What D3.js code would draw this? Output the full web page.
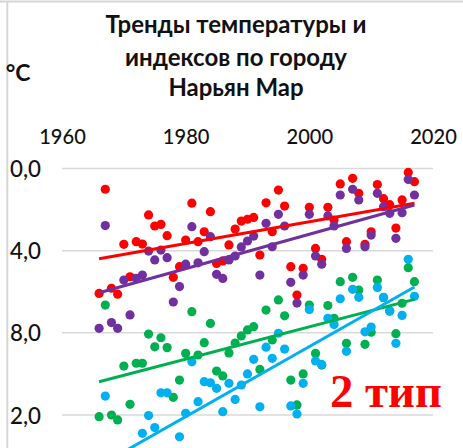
<!DOCTYPE html>
<html><head><meta charset="utf-8">
<script src="https://cdn.jsdelivr.net/npm/d3@7"></script>
<style>html,body{margin:0;padding:0;background:#fff;overflow:hidden}</style>
</head><body>
<svg id="c" width="463" height="448"></svg>
<script>
const years = d3.range(1966, 2018);
const redVals = [-6.08,-1.01,-5.83,-6.12,-3.69,-5.27,-3.56,-3.68,-2.26,-2.80,-2.72,-3.27,-5.30,-4.78,-3.48,-1.69,-3.56,-3.08,-2.10,-4.62,-4.50,-3.72,-2.95,-2.56,-2.47,-2.38,-4.21,-1.67,-3.08,-1.05,-1.83,-4.78,-6.16,-4.86,-1.89,-3.89,-4.42,-1.89,-2.51,-0.75,-3.56,-0.48,-1.21,-3.69,-3.08,-0.78,-1.47,-1.76,-2.90,-1.53,-0.19,-0.64];
const purpleVals = [-7.78,-2.78,-7.50,-7.78,-5.43,-7.13,-5.35,-5.19,-4.02,-4.45,-3.97,-4.34,-6.50,-5.75,-4.66,-2.83,-4.59,-4.05,-3.32,-5.15,-5.35,-4.45,-4.26,-3.82,-3.53,-3.29,-5.19,-2.67,-3.81,-2.23,-2.80,-5.54,-6.55,-5.19,-2.23,-4.26,-4.66,-2.31,-2.80,-1.29,-3.89,-1.01,-1.53,-3.81,-3.24,-1.21,-1.86,-2.18,-3.40,-2.15,-0.53,-1.29];
const greenVals = [-12.08,-6.65,-12.00,-12.24,-9.62,-11.48,-9.48,-9.48,-8.06,-8.68,-8.24,-8.72,-11.14,-10.30,-9.00,-6.97,-9.08,-8.48,-7.54,-9.86,-10.10,-8.98,-8.50,-8.15,-7.86,-7.70,-9.78,-6.89,-8.35,-6.40,-7.17,-10.30,-11.51,-10.00,-6.65,-9.00,-9.57,-6.67,-7.29,-5.51,-8.51,-5.30,-5.92,-8.56,-7.97,-5.43,-6.29,-6.94,-8.04,-6.56,-4.83,-5.51];
const blueVals = [null,-11.08,null,null,null,null,null,-12.89,-12.03,-12.61,-10.92,-10.92,null,-13.06,-11.92,-9.41,-11.35,-10.38,-10.43,-10.70,-11.84,-10.46,-11.24,-10.54,-10.00,-9.29,-11.60,-8.70,-9.24,-8.02,-8.79,-11.56,-11.95,-10.46,-6.87,-9.37,-9.54,-7.29,-7.60,-6.34,-8.90,-5.88,-6.27,-7.95,-7.72,-5.79,-6.27,-6.94,-8.51,-7.15,-4.42,-6.22];
const trendYears = [1966, 2017];
const trendRed = [-4.39, -1.69];
const trendPurple = [-6.05, -1.78];
const trendGreen = [-10.38, -6.37];
const trendBlue = [-14.47, -5.77];
const xTicks = [1960, 1980, 2000, 2020];
const yTicks = [0, -4, -8, -12];
const yTickLabels = ["0,0", "4,0", "8,0", "2,0"];
const titleLines = ["Тренды температуры и", "индексов по городу", "Нарьян Мар"];
const unitLabel = "°C";
const typeLabel = "2 тип";

const FONT = "Lato, 'Open Sans', sans-serif";
const colors = {red:"#FF0000", purple:"#7030A0", green:"#00B050", blue:"#00B0F0"};
const svg = d3.select("#c");
svg.append("rect").attr("width",463).attr("height",448).attr("fill","#fff");

const x = d3.scaleLinear().domain([1960, 2020]).range([62, 433]);
const y = d3.scaleLinear().domain([0, -12]).range([168.5, 415]);

// frame lines
svg.append("line").attr("x1",0).attr("x2",463).attr("y1",1.5).attr("y2",1.5).attr("stroke","#d6d6d6").attr("stroke-width",2);
svg.append("line").attr("x1",7.3).attr("x2",7.3).attr("y1",2).attr("y2",448).attr("stroke","#d6d6d6").attr("stroke-width",2);

function fit(sel, w){
  const n = sel.node();
  const fs = parseFloat(sel.attr("font-size"));
  const m = n.getComputedTextLength();
  const nf = m > 0 ? fs * w / m : fs;
  sel.attr("font-size", nf.toFixed(2));
  return nf;
}

// title
const titleY = [33.3, 65.8, 95.5];
const tsel = titleLines.map((t,i)=> svg.append("text").attr("x",236).attr("y",titleY[i]).attr("text-anchor","middle")
    .attr("font-family",FONT).attr("font-weight","bold").attr("font-size",22).attr("fill","#111").text(t));
const tfs = fit(tsel[0], 261);
tsel.forEach(s=>s.attr("font-size", tfs.toFixed(2)));

svg.append("text").attr("x",30.5).attr("y",81).attr("text-anchor","end")
  .attr("font-family",FONT).attr("font-weight","bold").attr("font-size",23).attr("fill","#111").text(unitLabel);

// gridlines
svg.append("g").selectAll("line").data(yTicks).join("line")
  .attr("x1",62).attr("x2",433).attr("y1",d=>y(d)).attr("y2",d=>y(d))
  .attr("stroke","#d9d9d9").attr("stroke-width",1.5);

// x axis labels (top)
const xa = svg.append("g").attr("transform","translate(0,144)")
  .call(d3.axisTop(x).tickValues(xTicks).tickFormat(d3.format("d")).tickSize(0).tickPadding(0));
xa.select(".domain").remove();
xa.selectAll("text").attr("font-family",FONT).attr("font-weight",500).attr("font-size",20).attr("fill","#111").attr("dy",0);
xa.selectAll("text").each(function(){ fit(d3.select(this), 46.7); });

// y axis labels
const ya = svg.append("g").attr("transform","translate(41,0)")
  .call(d3.axisLeft(y).tickValues(yTicks).tickFormat((d,i)=>yTickLabels[i]).tickSize(0).tickPadding(0));
ya.select(".domain").remove();
ya.selectAll("text").attr("font-family",FONT).attr("font-weight",500).attr("font-size",20).attr("fill","#111").attr("dy","0.36em");
ya.selectAll("text").each(function(){ fit(d3.select(this), 31); });

// dots
const series = [
  {vals:redVals, c:colors.red},
  {vals:purpleVals, c:colors.purple},
  {vals:greenVals, c:colors.green},
  {vals:blueVals, c:colors.blue}
];
series.forEach(s=>{
  const pts = years.map((yr,i)=>({yr, v:s.vals[i]})).filter(d=>d.v!==null);
  svg.append("g").selectAll("circle").data(pts).join("circle")
    .attr("cx",d=>x(d.yr)).attr("cy",d=>y(d.v)).attr("r",4.6).attr("fill",s.c);
});

// trend lines
const trends = [
  {vals:trendRed, c:colors.red},
  {vals:trendPurple, c:colors.purple},
  {vals:trendGreen, c:colors.green},
  {vals:trendBlue, c:colors.blue}
];
const line = d3.line().x(d=>x(d[0])).y(d=>y(d[1]));
trends.forEach(t=>{
  svg.append("path").attr("d", line(trendYears.map((yr,i)=>[yr, t.vals[i]])))
    .attr("fill","none").attr("stroke",t.c).attr("stroke-width",3);
});

const tl = svg.append("text").attr("x",330).attr("y",407).attr("text-anchor","start")
  .attr("font-family","'Liberation Serif'").attr("font-weight","bold").attr("font-size",48)
  .attr("fill","#FF0000").text(typeLabel);
fit(tl, 112);
</script>
</body></html>
